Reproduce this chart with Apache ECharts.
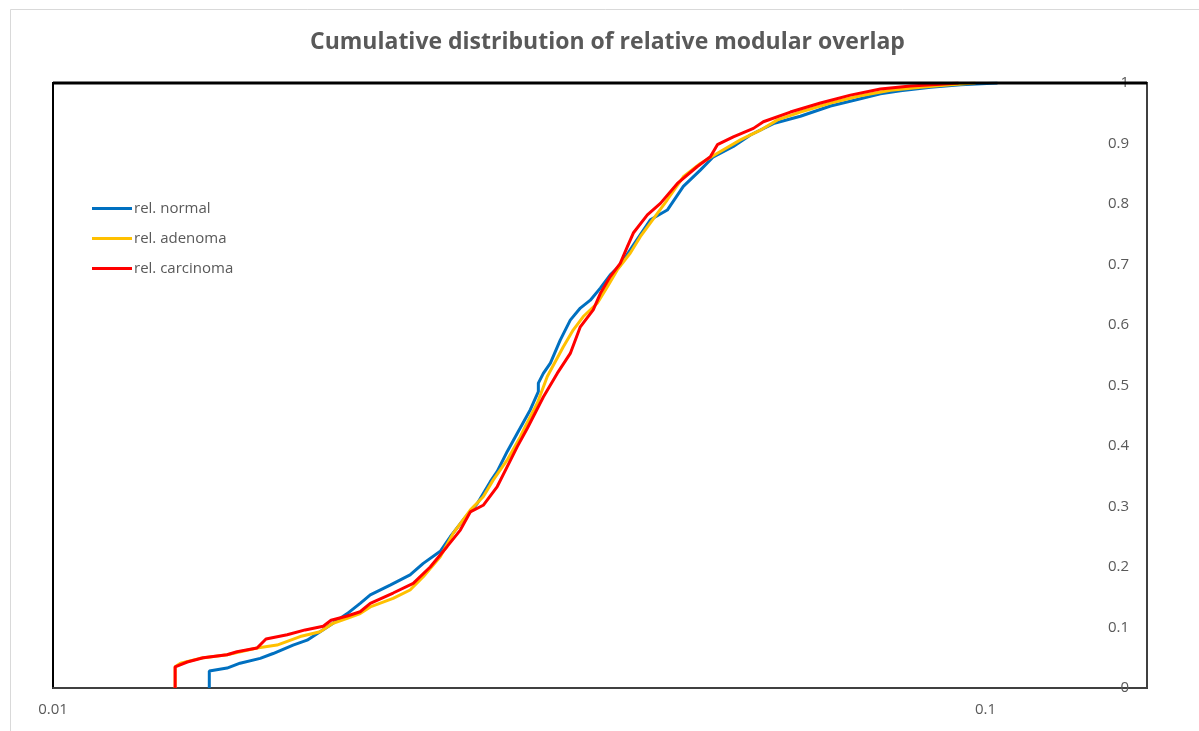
<!DOCTYPE html>
<html>
<head>
<meta charset="utf-8">
<script src="https://cdn.jsdelivr.net/npm/echarts@6/dist/echarts.min.js"></script>
<style>
html,body{margin:0;padding:0;background:#fff;}
#chart{width:1199px;height:731px;}
</style>
</head>
<body>
<div id="chart"></div>
<script>
const titleText = 'Cumulative distribution of relative modular overlap';
const seriesNames = ['rel. normal', 'rel. adenoma', 'rel. carcinoma'];
const seriesColors = ['#0070C0', '#FFC000', '#FF0000'];
const xTickValues = [0.01, 0.1];
const yTickLabels = ['0','0.1','0.2','0.3','0.4','0.5','0.6','0.7','0.8','0.9','1'];

const normal = [
  [0.01471,0],[0.01471,0.028],[0.01537,0.033],[0.01587,0.041],[0.01668,0.049],[0.01722,0.057],
  [0.01809,0.071],[0.01873,0.079],[0.01934,0.093],[0.01997,0.107],[0.02068,0.123],[0.02135,0.140],
  [0.02189,0.154],[0.02299,0.170],[0.02415,0.187],[0.02495,0.206],[0.02602,0.226],[0.02667,0.250],
  [0.02754,0.278],[0.02851,0.305],[0.02944,0.341],[0.02995,0.358],[0.03070,0.391],[0.03147,0.421],
  [0.03250,0.460],[0.03315,0.490],[0.03315,0.504],[0.03356,0.520],[0.03415,0.537],[0.03499,0.575],
  [0.03587,0.608],[0.03677,0.628],[0.03769,0.641],[0.03863,0.661],[0.03959,0.683],[0.04058,0.699],
  [0.04191,0.732],[0.04371,0.774],[0.04558,0.790],[0.04742,0.829],[0.04945,0.856],[0.05107,0.878],
  [0.05365,0.895],[0.05596,0.914],[0.05923,0.933],[0.06331,0.945],[0.06820,0.962],[0.07342,0.974],
  [0.07715,0.982],[0.08106,0.987],[0.08730,0.993],[0.09401,0.997],[0.1030,1.0]
];
const adenoma = [
  [0.01352,0],[0.01352,0.035],[0.01370,0.041],[0.01438,0.049],[0.01537,0.055],[0.01655,0.066],
  [0.01739,0.071],[0.01841,0.085],[0.01934,0.093],[0.01997,0.107],[0.02068,0.115],[0.02135,0.123],
  [0.02189,0.134],[0.02316,0.148],[0.02415,0.162],[0.02495,0.184],[0.02602,0.217],[0.02687,0.256],
  [0.02802,0.294],[0.02893,0.316],[0.02966,0.344],[0.03070,0.377],[0.03170,0.415],[0.03209,0.432],
  [0.03307,0.471],[0.03389,0.515],[0.03526,0.564],[0.03614,0.592],[0.03704,0.614],[0.03834,0.636],
  [0.03930,0.663],[0.04028,0.691],[0.04160,0.719],[0.04264,0.746],[0.04558,0.807],[0.04742,0.845],
  [0.04945,0.867],[0.05158,0.884],[0.05460,0.906],[0.05736,0.922],[0.05983,0.939],[0.06331,0.952],
  [0.06820,0.967],[0.07342,0.979],[0.07910,0.988],[0.08518,0.993],[0.09171,0.997],[0.09756,1.0]
];
const carcinoma = [
  [0.01352,0],[0.01352,0.035],[0.01393,0.043],[0.01449,0.050],[0.01537,0.055],[0.01575,0.060],
  [0.01655,0.066],[0.01692,0.081],[0.01783,0.088],[0.01864,0.096],[0.01949,0.102],[0.01987,0.112],
  [0.02068,0.119],[0.02135,0.126],[0.02189,0.140],[0.02316,0.157],[0.02434,0.173],[0.02538,0.200],
  [0.02647,0.234],[0.02734,0.261],[0.02802,0.291],[0.02893,0.302],[0.02995,0.333],[0.03070,0.366],
  [0.03147,0.399],[0.03225,0.429],[0.03356,0.481],[0.03473,0.520],[0.03587,0.553],[0.03677,0.597],
  [0.03796,0.625],[0.03863,0.652],[0.03959,0.680],[0.04058,0.702],[0.04129,0.729],[0.04191,0.752],
  [0.04339,0.782],[0.04481,0.801],[0.04673,0.834],[0.04909,0.862],[0.05069,0.878],[0.05158,0.898],
  [0.05365,0.911],[0.05638,0.925],[0.05778,0.936],[0.06177,0.952],[0.06653,0.967],[0.07164,0.980],
  [0.07715,0.990],[0.08309,0.995],[0.08948,0.998],[0.09355,1.0]
];
const seriesData = [normal, adenoma, carcinoma];

const chart = echarts.init(document.getElementById('chart'));
const textColor = '#595959';
chart.setOption({
  animation: false,
  backgroundColor: '#ffffff',
  title: {
    text: titleText, left: 305, top: 26,
    textStyle: {fontFamily: 'Open Sans', fontWeight: 'bold', fontSize: 23, color: textColor}
  },
  graphic: [{
    type: 'rect', left: 8, top: 7, shape: {width: 1200, height: 740},
    style: {fill: 'none', stroke: '#d9d9d9', lineWidth: 1}, silent: true, z: -1
  }, {
    type: 'line', shape: {x1: 53, y1: 83, x2: 1147, y2: 83},
    style: {stroke: '#000', lineWidth: 3}, silent: true, z: 10
  }],
  legend: {
    orient: 'vertical', left: 92, top: 201, padding: 0, itemGap: 15, itemWidth: 40, itemHeight: 3,
    icon: 'rect', data: seriesNames,
    textStyle: {fontFamily: 'Open Sans', fontSize: 15, color: textColor, padding: [0,0,0,-3]}
  },
  grid: {left: 53, right: 52, top: 83, bottom: 43, show: true, borderColor: '#000', borderWidth: 2, containLabel: false},
  xAxis: {
    type: 'log', logBase: 10, min: 0.01, max: 0.149,
    axisLine: {show: true, lineStyle: {color: '#404040', width: 2}},
    axisTick: {show: false}, splitLine: {show: false}, minorTick: {show: false},
    axisLabel: {
      fontFamily: 'Open Sans', fontSize: 15, color: textColor, margin: 14,
      formatter: function (v) {
        for (const t of xTickValues) { if (Math.abs(v - t) / t < 1e-6) return String(t); }
        return '';
      }
    }
  },
  yAxis: {
    type: 'value', position: 'right', min: 0, max: 1, interval: 0.1,
    axisLine: {show: true, lineStyle: {color: '#404040', width: 2}},
    axisTick: {show: false}, splitLine: {show: false},
    axisLabel: {
      inside: true, margin: 18, fontFamily: 'Open Sans', fontSize: 15, color: textColor,
      formatter: function (v) { return yTickLabels[Math.round(v * 10)]; }
    }
  },
  series: seriesNames.map((n, i) => ({
    name: n, type: 'line', data: seriesData[i], showSymbol: false, symbol: 'none',
    lineStyle: {color: seriesColors[i], width: 3}, itemStyle: {color: seriesColors[i]},
    z: 2 + i
  }))
});
</script>
</body>
</html>
